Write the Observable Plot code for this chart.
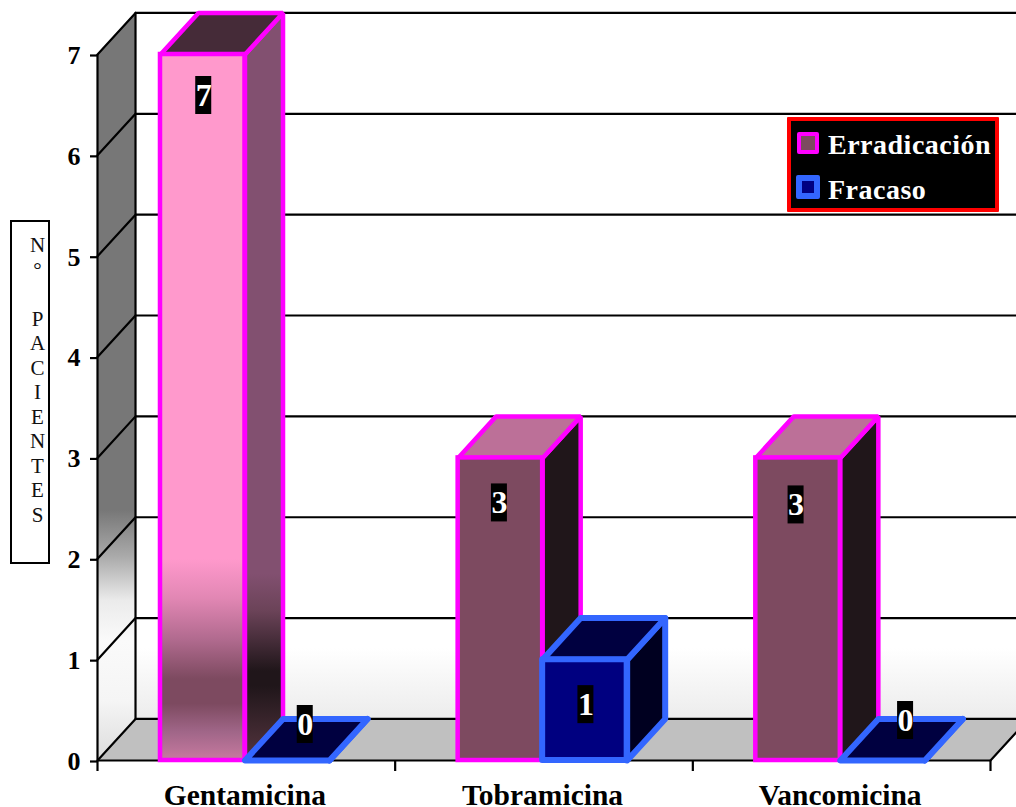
<!DOCTYPE html>
<html lang="es">
<head>
<meta charset="utf-8">
<script src="https://cdn.jsdelivr.net/npm/d3@7"></script>
<script src="https://cdn.jsdelivr.net/npm/@observablehq/plot@0.6"></script>
<style>
  html, body { margin: 0; padding: 0; background: #fff; }
  #stage { position: relative; width: 1016px; height: 807px; overflow: hidden; font-family: "Liberation Serif", serif; }
  #stage svg { display: block; }
  #axis-title {
    position: absolute; left: 10px; top: 220px; width: 40px; height: 344px; box-sizing: border-box;
    border: 2px solid #000; background: #fff; color: #111;
    font-size: 21px; line-height: 24.5px; padding: 11px 0 0 18px; white-space: pre; text-align: center;
  }
  #axis-title span { display: block; width: 15px; height: 24.5px; }
  #legend {
    position: absolute; left: 787px; top: 117px; width: 212px; height: 95px; box-sizing: border-box;
    border: 4px solid #f00; border-radius: 1px; background: #000; color: #fff;
    font-size: 28px; font-weight: bold; letter-spacing: 0.5px;
  }
  #legend .row { position: absolute; left: 7px; height: 32px; line-height: 32px; white-space: nowrap; }
  #legend .row i { position: absolute; box-sizing: border-box; border-radius: 2px; }
  #legend .row b { position: absolute; left: 30px; top: 0; }
</style>
</head>
<body>
<div id="stage"></div>
<script>
const categories = ["Gentamicina", "Tobramicina", "Vancomicina"];
const seriesNames = ["Erradicación", "Fracaso"];
const erradicacion = [7, 3, 3];
const fracaso = [0, 1, 0];
const yTicks = [0, 1, 2, 3, 4, 5, 6, 7];
const xTicks = [0, 1, 2, 3];
const axisTitleLetters = ["N", "°", " ", "P", "A", "C", "I", "E", "N", "T", "E", "S"];

// Receding depth of the box, in data units of each axis.
const depthX = 0.1277;
const depthY = 0.412;
const groupGap = 0.2116;
const barWidth = 0.2839;

const MAGENTA = "#ff00ff";
const BLUE = "#3366ff";

// Per-label nudges in pixels (bar labels sit on different faces).
const labelDx = [[1, 18], [-1, 1], [-2, 23]];
const labelDy = [[41, -36], [45, 45], [47, -40]];

// Vertical gradients: [offset, colour].
const gradients = {
  leftWall: [[0, "#777"], [0.665, "#777"], [0.727, "#aaa"], [0.786, "#ebebeb"], [0.84, "#fafafa"], [0.92, "#f5f5f5"], [1, "#dcdcdc"]],
  backWall: [[0, "#fff"], [0.9, "#fff"], [1, "#ececec"]],
  gentaFront: [[0, "#ff99cc"], [0.715, "#ff99cc"], [0.77, "#e287b4"], [0.83, "#b06a8e"], [0.885, "#7d4a60"], [0.92, "#7d4a60"], [0.96, "#a06688"], [1, "#c87aa0"]],
  gentaSide: [[0, "#825070"], [0.75, "#825070"], [0.8, "#6b4358"], [0.88, "#20161a"], [0.9, "#20161a"], [1, "#55353f"]]
};

function gradientDefs() {
  const defs = d3.create("svg:defs");
  for (const [id, stops] of Object.entries(gradients)) {
    const g = defs.append("linearGradient").attr("id", id).attr("x1", 0).attr("y1", 0).attr("x2", 0).attr("y2", 1);
    for (const [offset, color] of stops) g.append("stop").attr("offset", offset).attr("stop-color", color);
  }
  return defs.node();
}

// A filled outline given as [x, y] pairs in data units.
function polygon(points, options) {
  return Plot.line(points, {x: (d) => d[0], y: (d) => d[1], curve: "linear-closed", ...options});
}

// Side, top and front faces of one bar.
function bar(x1, value, faces, stroke, strokeWidth, strokeLinejoin) {
  const x2 = x1 + barWidth;
  const outline = {stroke, strokeWidth, strokeLinejoin};
  return [
    polygon([[x2, 0], [x2 + depthX, depthY], [x2 + depthX, value + depthY], [x2, value]], {fill: faces.side, ...outline}),
    polygon([[x1, value], [x2, value], [x2 + depthX, value + depthY], [x1 + depthX, value + depthY]], {fill: faces.top, ...outline}),
    Plot.rect([value], {x1: () => x1, x2: () => x2, y1: () => 0, y2: (d) => d, fill: faces.front, ...outline})
  ];
}

const gentaFaces = {front: "url(#gentaFront)", side: "url(#gentaSide)", top: "#452b38"};
const plainFaces = {front: "#7d4a60", side: "#20161a", top: "#bc7098"};
const blueFaces = {front: "#000080", side: "#000020", top: "#000040"};

const barMarks = categories.flatMap((c, i) => {
  const start = i + groupGap;
  return [
    ...bar(start, erradicacion[i], i === 0 ? gentaFaces : plainFaces, MAGENTA, 4.5, "miter"),
    ...bar(start + barWidth, fracaso[i], blueFaces, BLUE, 6, "round")
  ];
});

// White value on a black plate, one per bar.
const labelMarks = categories.flatMap((c, i) =>
  [erradicacion[i], fracaso[i]].flatMap((value, s) => {
    const x = i + groupGap + barWidth * (s + 0.5);
    const dx = labelDx[i][s];
    const dy = labelDy[i][s];
    const at = [{x, value}];
    return [
      Plot.rect(at, {x1: "x", x2: "x", y1: "value", y2: "value", dx, dy, fill: "#000",
        insetLeft: -8, insetRight: -8, insetTop: -19, insetBottom: -19}),
      Plot.text(at, {x: "x", y: "value", text: (d) => String(d.value), dx, dy, fill: "#fff",
        fontSize: 32, fontWeight: "bold"})
    ];
  })
);

const line = {stroke: "#000", strokeWidth: 2.2};

const chart = Plot.plot({
  width: 1016,
  height: 807,
  marginLeft: 97,
  marginRight: 26,
  marginTop: 54,
  marginBottom: 47,
  style: {fontFamily: "'Liberation Serif', serif", background: "#fff", color: "#000", overflow: "hidden"},
  x: {type: "linear", domain: [0, 3], axis: null},
  y: {type: "linear", domain: [0, 7], axis: null},
  marks: [
    gradientDefs,
    // Walls and floor of the box
    Plot.rect([0], {x1: () => depthX, x2: () => 3 + depthX, y1: () => depthY, y2: () => 7 + depthY, fill: "url(#backWall)"}),
    polygon([[0, 0], [depthX, depthY], [depthX, 7 + depthY], [0, 7]], {fill: "url(#leftWall)", stroke: "none"}),
    polygon([[0, 0], [3, 0], [3 + depthX, depthY], [depthX, depthY]], {fill: "#c0c0c0", stroke: "none"}),
    // Gridlines across the back wall and down the left wall
    Plot.ruleY(yTicks, {y: (d) => d + depthY, x1: depthX, x2: 3 + depthX, ...line}),
    ...yTicks.map((v) => Plot.line([[0, v], [depthX, v + depthY]], {x: (d) => d[0], y: (d) => d[1], ...line})),
    Plot.line([[depthX, depthY], [depthX, 7 + depthY]], {x: (d) => d[0], y: (d) => d[1], ...line}),
    Plot.line([[3, 0], [3 + depthX, depthY]], {x: (d) => d[0], y: (d) => d[1], ...line}),
    Plot.ruleX([0], {y1: 0, y2: 7, ...line}),
    Plot.ruleY([0], {x1: 0, x2: 3, ...line}),
    // Axes
    Plot.axisY({ticks: yTicks, tickFormat: (d) => String(d), tickSize: 7, tickPadding: 10, strokeWidth: 2.2, stroke: "#000",
      fontSize: 26, fontWeight: "bold", label: null, dy: 1}),
    Plot.axisX({ticks: xTicks, tickFormat: () => "", tickSize: 11, tickPadding: 0, strokeWidth: 2.2, stroke: "#000", label: null}),
    Plot.text(categories, {x: (d, i) => i + 0.5, y: () => 0, dx: -1.5, dy: 35, text: (d) => d, fontSize: 29.5, fontWeight: "bold", fill: "#000"}),
    ...barMarks,
    ...labelMarks
  ]
});

const stage = document.getElementById("stage");
stage.appendChild(chart);

// Stacked axis caption in its box
const title = d3.select(stage).append("div").attr("id", "axis-title");
title.selectAll("span").data(axisTitleLetters).join("span").text((d) => d);

// Legend sitting over the chart
const legend = d3.select(stage).append("div").attr("id", "legend");
const swatches = [
  {fill: "#7d4a60", stroke: MAGENTA, width: 4, size: 22, left: -1, top: 3},
  {fill: "#000080", stroke: BLUE, width: 6, size: 24, left: -2, top: 1}
];
seriesNames.forEach((name, i) => {
  const s = swatches[i];
  const row = legend.append("div").attr("class", "row").style("top", `${8 + i * 45}px`);
  row.append("i")
    .style("background", s.fill)
    .style("border", `${s.width}px solid ${s.stroke}`)
    .style("left", `${s.left}px`).style("top", `${s.top}px`)
    .style("width", `${s.size}px`).style("height", `${s.size}px`);
  row.append("b").text(name);
});
</script>
</body>
</html>
